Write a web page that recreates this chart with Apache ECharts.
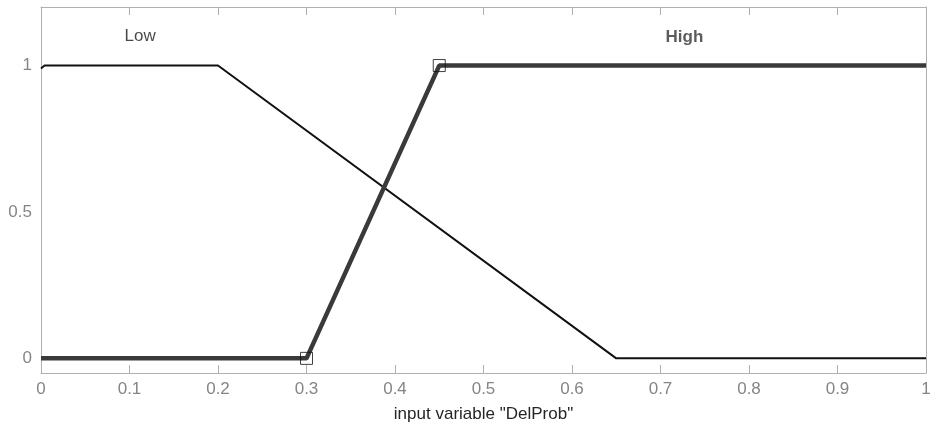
<!DOCTYPE html>
<html>
<head>
<meta charset="utf-8">
<script src="https://cdn.jsdelivr.net/npm/echarts@6/dist/echarts.min.js"></script>
<style>
  html, body { margin: 0; padding: 0; background: #fff; }
  #chart { width: 934px; height: 428px; }
</style>
</head>
<body>
<div id="chart"></div>
<script>
// membership functions of input variable "DelProb"
const lowPoints = [[0, 0.99], [0.004, 1], [0.2, 1], [0.65, 0], [1, 0]]
const highPoints = [[0, 0], [0.3, 0], [0.45, 1], [1, 1]]
const highMarkers = [[0.3, 0], [0.45, 1]]
const mfLabels = [
  { name: 'Low', pos: [0.112, 1.1], bold: false },
  { name: 'High', pos: [0.727, 1.098], bold: true }
]
const xTicks = [0, 0.1, 0.2, 0.3, 0.4, 0.5, 0.6, 0.7, 0.8, 0.9, 1]
const yTicks = [0, 0.5, 1]

const font = 'Liberation Sans, Arial, sans-serif'
const boxColor = '#b0b0b0'
const tickColor = '#858585'

const chart = echarts.init(document.getElementById('chart'))

const axisBase = {
  axisLine: { show: true, onZero: false, lineStyle: { color: boxColor, width: 1 } },
  splitLine: { show: false }
}

const isTick = (list, v) => list.some(t => Math.abs(t - v) < 1e-9)

const option = {
  animation: false,
  grid: { left: 41, right: 8, top: 7, bottom: 54, containLabel: false },
  xAxis: [
    {
      ...axisBase,
      type: 'value', min: 0, max: 1, interval: 0.1,
      position: 'bottom',
      axisTick: { show: true, inside: true, length: 8, lineStyle: { color: boxColor } },
      axisLabel: {
        color: tickColor, fontFamily: font, fontSize: 17, margin: 8,
        formatter: v => isTick(xTicks, v) ? String(+v.toFixed(1)) : ''
      },
      name: 'input variable "DelProb"',
      nameLocation: 'middle', nameGap: 33,
      nameTextStyle: { color: '#262626', fontFamily: font, fontSize: 17 }
    },
    {
      ...axisBase,
      type: 'value', min: 0, max: 1, interval: 0.1,
      position: 'top',
      axisTick: { show: true, inside: true, length: 8, lineStyle: { color: boxColor } },
      axisLabel: { show: false }
    }
  ],
  yAxis: [
    {
      ...axisBase,
      type: 'value', min: -0.05, max: 1.2, interval: 0.05,
      position: 'left',
      axisTick: { show: false },
      axisLabel: {
        color: tickColor, fontFamily: font, fontSize: 17, margin: 9,
        formatter: v => isTick(yTicks, v) ? String(+v.toFixed(1)) : ''
      }
    },
    {
      ...axisBase,
      type: 'value', min: -0.05, max: 1.2, interval: 0.05,
      position: 'right',
      axisTick: { show: false },
      axisLabel: { show: false }
    }
  ],
  series: [
    {
      type: 'line', data: lowPoints, symbol: 'none',
      lineStyle: { color: '#111111', width: 2 }, z: 3
    },
    {
      type: 'line', data: highPoints, symbol: 'none',
      lineStyle: { color: '#3a3a3a', width: 4.5 }, z: 4
    },
    {
      type: 'scatter', data: highMarkers, symbol: 'rect', symbolSize: 12,
      itemStyle: { color: 'rgba(0,0,0,0)', borderColor: '#111', borderWidth: 1 }, z: 5
    },
    {
      type: 'scatter', symbolSize: 0, z: 6,
      data: mfLabels.map(l => ({
        value: l.pos,
        label: {
          show: true, position: 'inside', formatter: l.name,
          color: l.bold ? '#333' : '#1a1a1a', fontFamily: font, fontSize: 17,
          fontWeight: l.bold ? 'bold' : 'normal'
        }
      }))
    }
  ]
}

chart.setOption(option)
</script>
</body>
</html>
